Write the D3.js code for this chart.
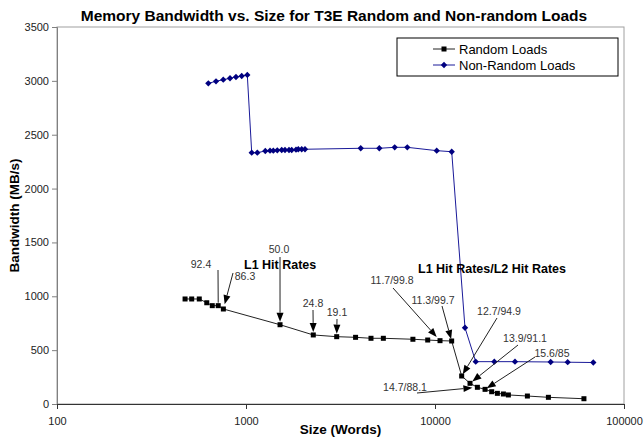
<!DOCTYPE html>
<html>
<head>
<meta charset="utf-8">
<script src="https://cdn.jsdelivr.net/npm/d3@7"></script>
<style>
  body { margin: 0; background: #fff; }
  svg { display: block; font-family: "Liberation Sans", Arial, sans-serif; }
</style>
</head>
<body>
<svg id="chart" width="644" height="439"></svg>
<script>
// Random loads (squares)
const randomSize = [476, 516, 566, 620, 663, 713, 759, 1514, 2270, 3019, 3800, 4585, 5330, 7640, 9150, 10630, 12250,
  13840, 15320, 16760, 18400, 19950, 21380, 23010, 24450, 30820, 39810, 61380];
const randomBw = [975, 975, 975, 940, 913, 913, 882, 736, 641, 625, 619, 610, 610, 601, 594, 588, 585,
  260, 192, 155, 136, 114, 99, 93, 84, 74, 62, 49];

// Non-random loads (diamonds)
const seqSize = [632, 694, 758, 823, 885, 949, 1016, 1072, 1148, 1265, 1340, 1395, 1464, 1545, 1608, 1689, 1745,
  1839, 1891, 1971, 2052, 4046, 5074, 6120, 7136, 10210, 12257, 14412, 16420, 20600, 26500, 40930, 50350, 68800];
const seqBw = [2977, 2996, 3011, 3024, 3036, 3045, 3055, 2333, 2333, 2349, 2352, 2352, 2355, 2358, 2358, 2358, 2358,
  2361, 2365, 2365, 2365, 2374, 2374, 2383, 2383, 2352, 2342, 708, 393, 393, 393, 390, 388, 385];

const yTicks = [0, 500, 1000, 1500, 2000, 2500, 3000, 3500];
const xTicks = [100, 1000, 10000, 100000];

// hit-rate annotations: text and the random-load point each one marks
const noteText = ['92.4', '86.3', '50.0', '24.8', '19.1', '11.7/99.8', '11.3/99.7', '12.7/94.9', '13.9/91.1', '15.6/85', '14.7/88.1'];
const noteSize = [713, 759, 1514, 2270, 3019, 10630, 12250, 13840, 15320, 18400, 16760];
const noteBw = [913, 882, 736, 641, 625, 588, 585, 260, 192, 136, 155];

// label placement (px): label centre x, baseline y, line start x, y, gap before the point
const noteLayout = [
  [201, 268, 218, 270, 3],
  [245, 280, 233, 273, 5],
  [279, 253, 280, 257, 3],
  [313, 307, 313, 310, 3],
  [337, 316, 337, 319, 3],
  [392, 284, 393, 288, 5],
  [433, 304, 442, 306, 2],
  [499, 315, 497, 318, 2],
  [525, 342, 518, 345, 3],
  [552, 357, 535, 357, 2],
  [405, 391, 417, 393, 5]
];

const plot = { left: 57, right: 624, top: 27, bottom: 404 };

const svg = d3.select('#chart');
const x = d3.scaleLog().domain([100, 100000]).range([plot.left, plot.right]);
const y = d3.scaleLinear().domain([0, 3500]).range([plot.bottom, plot.top]);

// plot area frame
svg.append('rect')
  .attr('x', plot.left).attr('y', plot.top)
  .attr('width', plot.right - plot.left).attr('height', plot.bottom - plot.top)
  .attr('fill', 'none').attr('stroke', '#a0a0a0');

const yAxis = svg.append('g')
  .attr('transform', `translate(${plot.left},0)`)
  .call(d3.axisLeft(y).tickValues(yTicks).tickSize(5).tickPadding(3).tickFormat(d3.format('d')));
yAxis.select('.domain').attr('stroke', '#808080');
yAxis.selectAll('line').attr('stroke', '#808080');
yAxis.selectAll('text').attr('font-size', 11).attr('fill', '#222').attr('font-family', null);

const xAxis = svg.append('g')
  .attr('transform', `translate(0,${plot.bottom})`)
  .call(d3.axisBottom(x).tickValues(xTicks).tickSize(5).tickPadding(8).tickFormat(d3.format('d')));
xAxis.select('.domain').attr('stroke', '#333');
xAxis.selectAll('line').attr('stroke', '#333');
xAxis.selectAll('text').attr('font-size', 11).attr('fill', '#222').attr('font-family', null);

const line = d3.line().x(d => x(d[0])).y(d => y(d[1]));
const randomData = d3.zip(randomSize, randomBw);
const seqData = d3.zip(seqSize, seqBw);

const diamond = { draw(ctx, size) { const r = Math.sqrt(size) / 2; ctx.moveTo(0, -r); ctx.lineTo(r, 0); ctx.lineTo(0, r); ctx.lineTo(-r, 0); ctx.closePath(); } };

svg.append('path').datum(seqData)
  .attr('d', line).attr('fill', 'none').attr('stroke', '#1a1a99').attr('stroke-width', 1);
svg.append('path').datum(randomData)
  .attr('d', line).attr('fill', 'none').attr('stroke', '#222').attr('stroke-width', 1);

svg.append('g').selectAll('path')
  .data(seqData).join('path')
  .attr('d', d3.symbol(diamond, 40))
  .attr('transform', d => `translate(${x(d[0])},${y(d[1])})`)
  .attr('fill', '#000080');

svg.append('g').selectAll('rect')
  .data(randomData).join('rect')
  .attr('x', d => x(d[0]) - 2.5).attr('y', d => y(d[1]) - 2.5)
  .attr('width', 5).attr('height', 5)
  .attr('fill', '#000');

// annotations
const notes = svg.append('g');
noteText.forEach((t, i) => {
  const [lx, ly, sx, sy, gap] = noteLayout[i];
  const tx = x(noteSize[i]), ty = y(noteBw[i]);
  const ang = Math.atan2(ty - sy, tx - sx);
  const len = 9, half = 3.5;
  const ex = tx - gap * Math.cos(ang), ey = ty - gap * Math.sin(ang);
  const bx = ex - len * Math.cos(ang), by = ey - len * Math.sin(ang);
  const noHead = i === 0;
  notes.append('line')
    .attr('x1', sx).attr('y1', sy)
    .attr('x2', noHead ? ex : bx).attr('y2', noHead ? ey : by)
    .attr('stroke', '#222').attr('stroke-width', 1);
  if (!noHead) {
    const px = -Math.sin(ang) * half, py = Math.cos(ang) * half;
    notes.append('path')
      .attr('d', `M${ex},${ey}L${bx + px},${by + py}L${bx - px},${by - py}Z`)
      .attr('fill', '#000');
  }
  notes.append('text')
    .attr('x', lx).attr('y', ly)
    .attr('text-anchor', 'middle')
    .attr('font-size', 10.5).attr('fill', '#333')
    .text(t);
});

notes.append('text').attr('x', 244).attr('y', 269)
  .attr('font-size', 12.5).attr('font-weight', 'bold').text('L1 Hit Rates');
notes.append('text').attr('x', 418).attr('y', 273)
  .attr('font-size', 12.5).attr('font-weight', 'bold').text('L1 Hit Rates/L2 Hit Rates');

// titles
svg.append('text').attr('x', 334).attr('y', 21).attr('text-anchor', 'middle')
  .attr('font-size', 15.5).attr('font-weight', 'bold')
  .text('Memory Bandwidth vs. Size for T3E Random and Non-random Loads');
svg.append('text').attr('x', (plot.left + plot.right) / 2).attr('y', 434).attr('text-anchor', 'middle')
  .attr('font-size', 13.5).attr('font-weight', 'bold').text('Size (Words)');
svg.append('text')
  .attr('transform', `translate(19,${(plot.top + plot.bottom) / 2}) rotate(-90)`)
  .attr('text-anchor', 'middle')
  .attr('font-size', 13.5).attr('font-weight', 'bold').text('Bandwidth (MB/s)');

// legend
const legend = svg.append('g');
legend.append('rect').attr('x', 397).attr('y', 38).attr('width', 221).attr('height', 38)
  .attr('fill', '#fff').attr('stroke', '#000');
const legendRows = [
  { name: 'Random Loads', color: '#222', mark: 'square' },
  { name: 'Non-Random Loads', color: '#1a1a99', mark: 'diamond' }
];
legendRows.forEach((r, i) => {
  const cy = 49 + i * 16;
  legend.append('line').attr('x1', 433).attr('x2', 455).attr('y1', cy).attr('y2', cy)
    .attr('stroke', r.color);
  if (r.mark === 'square') {
    legend.append('rect').attr('x', 441.5).attr('y', cy - 2.5).attr('width', 5).attr('height', 5).attr('fill', '#000');
  } else {
    legend.append('path').attr('d', d3.symbol(diamond, 40))
      .attr('transform', `translate(444,${cy})`).attr('fill', '#000080');
  }
  legend.append('text').attr('x', 459).attr('y', cy + 5)
    .attr('font-size', 13).text(r.name);
});
</script>
</body>
</html>
